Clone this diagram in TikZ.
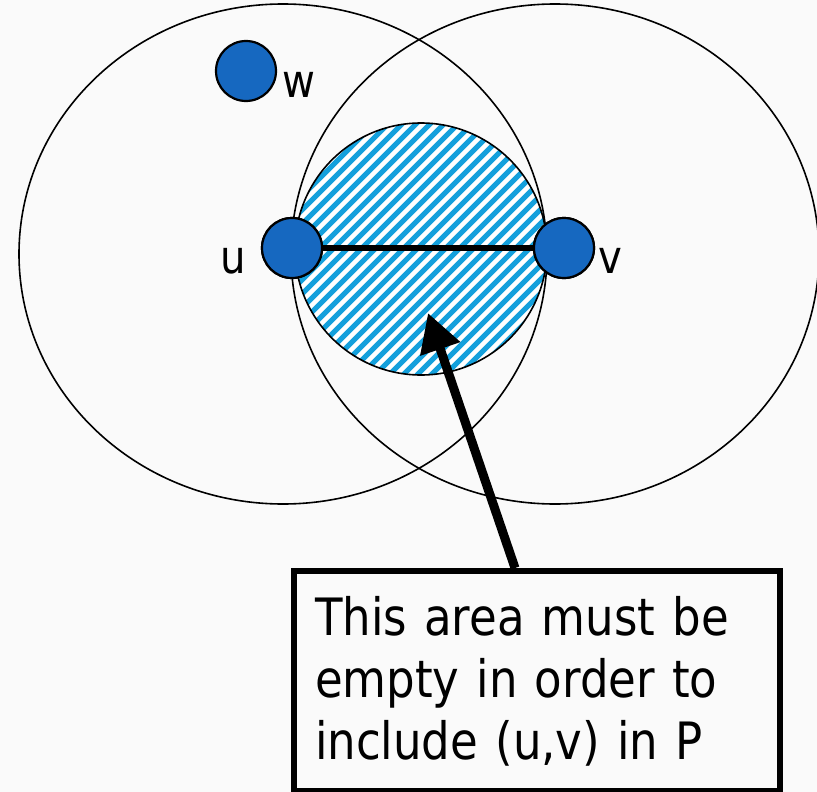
\documentclass[tikz,border=0pt]{standalone}
\usepackage{fontspec}
\setmainfont{DejaVu Sans}[FakeStretch=0.875]
\usetikzlibrary{arrows.meta}
\definecolor{nodeblue}{RGB}{22,104,192}
\definecolor{hatchblue}{RGB}{20,160,220}
\definecolor{bg}{RGB}{250,250,250}
\tikzset{
  vertex/.style={circle, draw=black, line width=2.2pt, fill=nodeblue, minimum size=60pt, inner sep=0pt},
  lbl/.style={font=\fontsize{46}{50}\selectfont, inner sep=0pt, anchor=base},
  bigring/.style={draw=black, line width=1.6pt},
  hatchline/.style={draw=hatchblue, line width=5pt},
  edgeline/.style={draw=black, line width=5.5pt},
  pointer/.style={draw=black, line width=9pt, -{Triangle[length=38pt,width=40pt]}},
  notebox/.style={draw=black, line width=6pt, fill=bg, anchor=north west,
    minimum height=220pt, text width=444pt, inner xsep=21pt, inner ysep=0pt,
    align=left, font=\fontsize{51.5}{62}\selectfont}
}
\begin{document}
\begin{tikzpicture}[x=1pt, y=-1pt]
  \fill[bg] (0,0) rectangle (817,792);
  \useasboundingbox (0,0) rectangle (817,792);
  % large ellipses
  \draw[bigring] (283,254) ellipse [x radius=264pt, y radius=250pt];
  \draw[bigring] (555,254) ellipse [x radius=264pt, y radius=250pt];
  % hatched region
  \fill[white] (421,249) circle (126pt);
  \begin{scope}
    \clip (421,249) circle (126pt);
    \foreach \c in {400,414,...,960} {
      \draw[hatchline] (260,\c-260) -- (600,\c-600);
    }
  \end{scope}
  \draw[bigring] (421,249) circle (126pt);
  % vertices
  \node[vertex] (u) at (292,248) {};
  \node[vertex] (v) at (564,248) {};
  \node[vertex] (w) at (246,71) {};
  \draw[edgeline] (u) -- (v);
  \node[vertex] at (u) {};
  \node[vertex] at (v) {};
  \node[lbl] (lu) at (233,273) {u};
  \node[lbl] (lv) at (610,273) {v};
  \node[lbl] (lw) at (299,97) {w};
  % note box and pointer
  \node[notebox] (box) at (291,568) {This area must be\\empty in order to\\include (u,v) in P};
  \coordinate (astart) at (515,568);
  \coordinate (atip) at (428,313);
  \draw[pointer] (astart) -- (atip);
\end{tikzpicture}
\end{document}
